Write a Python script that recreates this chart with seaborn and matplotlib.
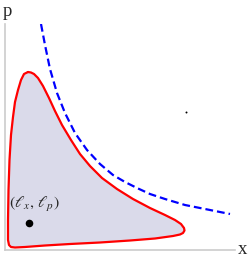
import matplotlib
matplotlib.use("Agg")
import numpy as np
import pandas as pd
import matplotlib.pyplot as plt
import seaborn as sns

# boundary of the shaded region (closed loop)
region_x = [23, 26, 29, 33, 38, 44, 50, 57, 66, 75, 85, 97, 112, 128, 145, 160, 170, 176,
            179, 179.5, 178, 175, 168, 150, 125, 95, 65, 40, 20, 10, 6, 4, 3, 3, 3.5, 4.5,
            6, 8, 10, 13, 16, 19, 23]
region_y = [178, 177.5, 176, 172, 164, 152, 139, 125, 110, 96, 84, 72, 61, 51, 42, 35, 30, 26,
            22, 19.5, 17, 15.5, 14, 11.5, 9.5, 7.5, 6, 4.5, 3, 2.5, 3, 5, 10, 30, 60, 90,
            115, 133, 148, 160, 170, 176, 178]

# dashed boundary curve
bound_x = [36, 40, 45, 52, 60, 70, 82, 95, 108, 120, 132, 145, 160, 180, 205, 225]
bound_y = [226, 205, 181, 157, 137, 117, 100, 86, 75, 68, 62, 56, 51, 45, 40, 36]

# marked point and stray dot
point_x, point_y = [24], [27]
dot_x, dot_y = [181], [138]

sns.set_style("white")
plt.rcParams["mathtext.fontset"] = "stix"

fig = plt.figure(figsize=(2.49, 2.62), dpi=100)
ax = fig.add_axes([5 / 249, 12 / 262, 230 / 249, 226 / 262])

region = pd.DataFrame({"x": region_x, "y": region_y})
bound = pd.DataFrame({"x": bound_x, "y": bound_y})

ax.fill(region["x"], region["y"], color="#dadaea", lw=0, zorder=1)
sns.lineplot(data=region, x="x", y="y", sort=False, estimator=None, color="#ff0000",
             lw=1.6, ax=ax, zorder=3)
sns.lineplot(data=bound, x="x", y="y", sort=False, estimator=None, color="#0000ff",
             lw=1.6, ax=ax, zorder=3)
ax.lines[-1].set_dashes([3.5, 1.8])

sns.scatterplot(x=point_x, y=point_y, color="black", s=30, ax=ax, zorder=4, linewidth=0)
sns.scatterplot(x=dot_x, y=dot_y, color="black", s=2, ax=ax, zorder=4, linewidth=0)

ax.text(29, 45, r"$(\ell_x,\,\ell_p)$", fontsize=11.5, ha="center", va="center")

ax.set_xlim(0, 230)
ax.set_ylim(0, 226)
ax.set_xticks([])
ax.set_yticks([])
ax.set_xlabel("")
ax.set_ylabel("")
for side in ["top", "right"]:
    ax.spines[side].set_visible(False)
for side in ["left", "bottom"]:
    ax.spines[side].set_color("#cccccc")
    ax.spines[side].set_linewidth(1.2)

fig.text(7 / 249, 1 - 11 / 262, "p", fontsize=13.5, family="Liberation Serif",
         ha="center", va="center")
fig.text(243 / 249, 1 - 250 / 262, "x", fontsize=13.5, family="Liberation Serif",
         ha="center", va="center")

fig.savefig("out.png", dpi=100)
